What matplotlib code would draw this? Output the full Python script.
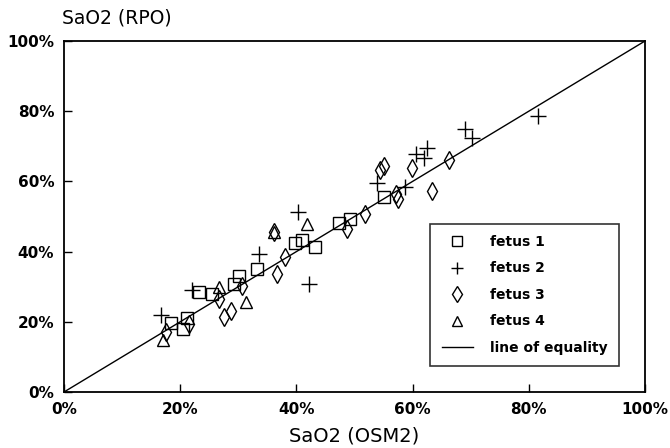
import matplotlib
matplotlib.use("Agg")
import matplotlib.pyplot as plt
from matplotlib.ticker import FuncFormatter

# SaO2 values (%): x = OSM2, y = RPO
fetus1_x = [18.5, 20.5, 21.1, 23.2, 25.4, 29.3, 30.1, 33.2, 39.8, 40.9, 43.2, 47.3, 49.3, 55.0]
fetus1_y = [19.6, 17.9, 21.2, 28.6, 27.8, 30.8, 33.0, 35.0, 42.5, 43.2, 41.4, 48.1, 49.2, 55.6]

fetus2_x = [16.7, 22.0, 33.6, 40.2, 42.2, 53.8, 58.7, 60.5, 62.0, 62.4, 69.0, 70.2, 81.6]
fetus2_y = [21.9, 29.1, 39.3, 51.4, 30.8, 59.5, 58.3, 67.7, 66.6, 69.4, 74.8, 72.5, 78.6]

fetus3_x = [17.6, 21.5, 26.6, 27.5, 28.7, 30.7, 36.1, 36.7, 38.0, 48.7, 51.8, 54.4, 55.1, 57.1, 57.5, 59.9, 63.3, 66.3]
fetus3_y = [17.2, 19.4, 26.4, 21.3, 23.2, 30.2, 45.7, 33.6, 38.5, 46.4, 50.6, 63.2, 64.4, 56.4, 54.9, 63.7, 57.4, 66.1]

fetus4_x = [17.0, 26.6, 31.3, 36.1, 41.9]
fetus4_y = [14.8, 29.8, 25.7, 45.7, 47.9]

equality = [0, 100]
tick_values = [0, 20, 40, 60, 80, 100]

fig = plt.figure(figsize=(6.7, 4.48), dpi=100)
ax = fig.add_axes([64/670, 1-392/448, (645-64)/670, (392-41)/448])

mk = dict(linestyle='none', color='black', markerfacecolor='none', markeredgewidth=1.0)
ax.plot(fetus1_x, fetus1_y, marker='s', markersize=8, label='fetus 1', **mk)
ax.plot(fetus2_x, fetus2_y, marker='+', markersize=11, label='fetus 2', **mk)
ax.plot(fetus3_x, fetus3_y, marker='d', markersize=9, label='fetus 3', **mk)
ax.plot(fetus4_x, fetus4_y, marker='^', markersize=9, label='fetus 4', **mk)
ax.plot(equality, equality, color='black', linewidth=1.0, label='line of equality')

ax.set_xlim(0, 100)
ax.set_ylim(0, 100)
ax.set_xticks(tick_values)
ax.set_yticks(tick_values)
fmt = FuncFormatter(lambda v, p: f"{int(v)}%")
ax.xaxis.set_major_formatter(fmt)
ax.yaxis.set_major_formatter(fmt)
ax.tick_params(direction='in', length=6, width=1, labelsize=11, pad=7)
for lab in ax.get_xticklabels() + ax.get_yticklabels():
    lab.set_fontweight('bold')
for s in ax.spines.values():
    s.set_linewidth(1.3)

fig.text(62/670, 1-18/448, 'SaO2 (RPO)', fontsize=13.5, ha='left', va='center')
fig.text(354/670, 1-436/448, 'SaO2 (OSM2)', fontsize=14, ha='center', va='center')

leg = ax.legend(loc='lower right', bbox_to_anchor=(0.955, 0.074), borderaxespad=0,
                frameon=True, fancybox=False, edgecolor='black',
                prop={'weight': 'bold', 'size': 10}, labelspacing=0.9,
                handlelength=2.3, borderpad=0.8, handletextpad=1.2, markerscale=0.85)
leg.get_frame().set_linewidth(1.2)

fig.savefig('out.png', dpi=100)
